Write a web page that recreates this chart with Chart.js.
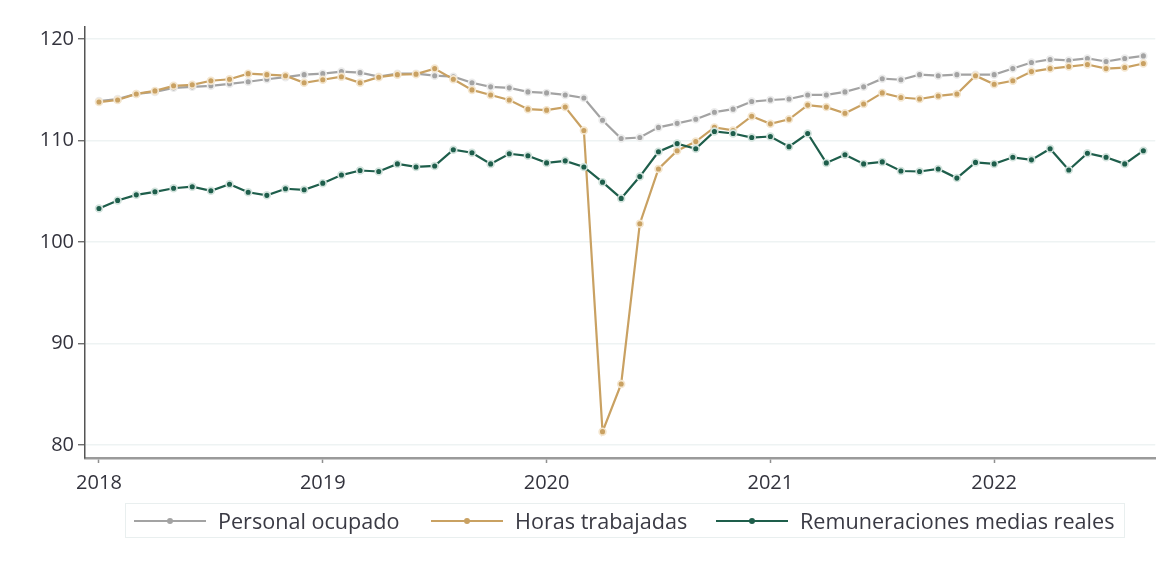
<!DOCTYPE html>
<html>
<head>
<meta charset="utf-8">
<script src="https://cdn.jsdelivr.net/npm/chart.js@4.4.1/dist/chart.umd.min.js"></script>
<style>
  html, body { margin: 0; padding: 0; background: #fff; }
  #wrap { position: relative; width: 1161px; height: 561px; }
  #c { position: absolute; left: 0; top: 0; }
  #legend {
    position: absolute; left: 125px; top: 503px; width: 998px; height: 33px;
    border: 1px solid #e9efef; box-sizing: content-box;
    font-family: "Open Sans", sans-serif;
    font-size: 21.6px; color: #3a3a44; white-space: nowrap; overflow: hidden;
  }
  .item { position: absolute; top: 0; height: 33px; display: flex; align-items: center; }
  .sample { position: relative; flex: 0 0 auto; width: 72px; height: 2px; margin-right: 12px; }
  .dot { position: absolute; left: 33px; top: -2px; width: 6px; height: 6px; border-radius: 50%; }
</style>
</head>
<body>
<div id="wrap">
  <canvas id="c" width="1161" height="561"></canvas>
  <div id="legend"></div>
</div>
<script>
const months = [
  "2018-01","2018-02","2018-03","2018-04","2018-05","2018-06","2018-07","2018-08","2018-09","2018-10","2018-11","2018-12",
  "2019-01","2019-02","2019-03","2019-04","2019-05","2019-06","2019-07","2019-08","2019-09","2019-10","2019-11","2019-12",
  "2020-01","2020-02","2020-03","2020-04","2020-05","2020-06","2020-07","2020-08","2020-09","2020-10","2020-11","2020-12",
  "2021-01","2021-02","2021-03","2021-04","2021-05","2021-06","2021-07","2021-08","2021-09","2021-10","2021-11","2021-12",
  "2022-01","2022-02","2022-03","2022-04","2022-05","2022-06","2022-07","2022-08","2022-09"
];
const personalOcupado = [
  113.9,114.1,114.6,114.8,115.2,115.3,115.4,115.6,115.8,116.05,116.25,116.5,
  116.6,116.8,116.7,116.3,116.6,116.6,116.4,116.3,115.7,115.3,115.2,114.8,
  114.7,114.5,114.2,112.0,110.2,110.3,111.3,111.7,112.1,112.8,113.1,113.85,
  114.0,114.1,114.5,114.5,114.8,115.3,116.1,116.0,116.5,116.4,116.5,116.5,
  116.5,117.1,117.7,118.0,117.9,118.1,117.8,118.1,118.35
];
const horasTrabajadas = [
  113.8,114.0,114.6,114.9,115.4,115.5,115.9,116.05,116.6,116.5,116.4,115.7,
  116.0,116.3,115.7,116.25,116.5,116.55,117.1,116.05,115.0,114.5,114.0,113.1,
  113.0,113.3,111.0,81.3,86.0,101.8,107.2,109.0,109.9,111.3,111.0,112.4,
  111.65,112.1,113.5,113.3,112.7,113.6,114.7,114.25,114.1,114.4,114.6,116.4,
  115.55,115.9,116.8,117.1,117.3,117.5,117.1,117.2,117.6
];
const remuneraciones = [
  103.3,104.1,104.65,104.95,105.3,105.45,105.05,105.7,104.9,104.6,105.25,105.15,
  105.8,106.6,107.05,106.95,107.7,107.4,107.5,109.1,108.8,107.7,108.7,108.5,
  107.8,108.0,107.4,105.9,104.3,106.45,108.9,109.7,109.2,110.9,110.7,110.3,
  110.4,109.4,110.7,107.8,108.6,107.7,107.9,107.0,106.95,107.2,106.3,107.85,
  107.7,108.35,108.1,109.2,107.1,108.75,108.35,107.7,109.0
];
const seriesNames = ["Personal ocupado", "Horas trabajadas", "Remuneraciones medias reales"];
const yearTickIndex = [0, 12, 24, 36, 48];
const yearTickLabels = ["2018", "2019", "2020", "2021", "2022"];
const yTicks = [80, 90, 100, 110, 120];

const colors = ["#a3a3a3", "#c9a162", "#1e5e4b"];
const halos = ["#ececec", "#f4e6cf", "#d3e3dd"];
const values = [personalOcupado, horasTrabajadas, remuneraciones];
const orders = [3, 2, 1];
const legendLefts = [8, 305, 590];

const datasets = seriesNames.map((name, k) => ({
  label: name,
  data: values[k].map((v, i) => ({ x: i, y: v })),
  borderColor: colors[k],
  backgroundColor: colors[k],
  borderWidth: 2.2,
  pointRadius: 3.4,
  pointBorderWidth: 1.7,
  pointBackgroundColor: colors[k],
  pointBorderColor: halos[k],
  tension: 0,
  order: orders[k]
}));

const tickFont = { family: "'Open Sans', sans-serif", size: 20 };

new Chart(document.getElementById('c'), {
  type: 'line',
  data: { datasets },
  options: {
    responsive: false,
    animation: false,
    events: [],
    layout: { padding: { top: 27, right: 0, bottom: 63, left: 0 } },
    plugins: { legend: { display: false }, tooltip: { enabled: false } },
    scales: {
      x: {
        type: 'linear',
        min: -0.75,
        max: 56.64,
        afterBuildTicks: (s) => { s.ticks = yearTickIndex.map(v => ({ value: v })); },
        afterFit: (s) => { s.height = 40; },
        ticks: {
          autoSkip: false, maxRotation: 0, padding: 8,
          color: '#33333d', font: tickFont,
          callback: (v) => yearTickLabels[yearTickIndex.indexOf(v)]
        },
        grid: { drawOnChartArea: false, tickLength: 5, tickColor: '#8f8f8f', tickWidth: 1.5 },
        border: { color: '#9a9a9a', width: 2.5 }
      },
      y: {
        min: 78.7,
        max: 121.2,
        afterBuildTicks: (s) => { s.ticks = yTicks.map(v => ({ value: v })); },
        afterFit: (s) => { s.width = 85; },
        ticks: { color: '#33333d', font: tickFont, padding: 4 },
        grid: { color: '#eef3f3', lineWidth: 1.5, tickLength: 7, tickColor: '#555', tickWidth: 1.2 },
        border: { color: '#555', width: 1.5 }
      }
    }
  }
});

const legend = document.getElementById('legend');
seriesNames.forEach((name, k) => {
  const item = document.createElement('div');
  item.className = 'item';
  item.style.left = legendLefts[k] + 'px';
  const sample = document.createElement('div');
  sample.className = 'sample';
  sample.style.background = colors[k];
  const dot = document.createElement('div');
  dot.className = 'dot';
  dot.style.background = colors[k];
  sample.appendChild(dot);
  const txt = document.createElement('span');
  txt.textContent = name;
  item.appendChild(sample);
  item.appendChild(txt);
  legend.appendChild(item);
});
</script>
</body>
</html>
